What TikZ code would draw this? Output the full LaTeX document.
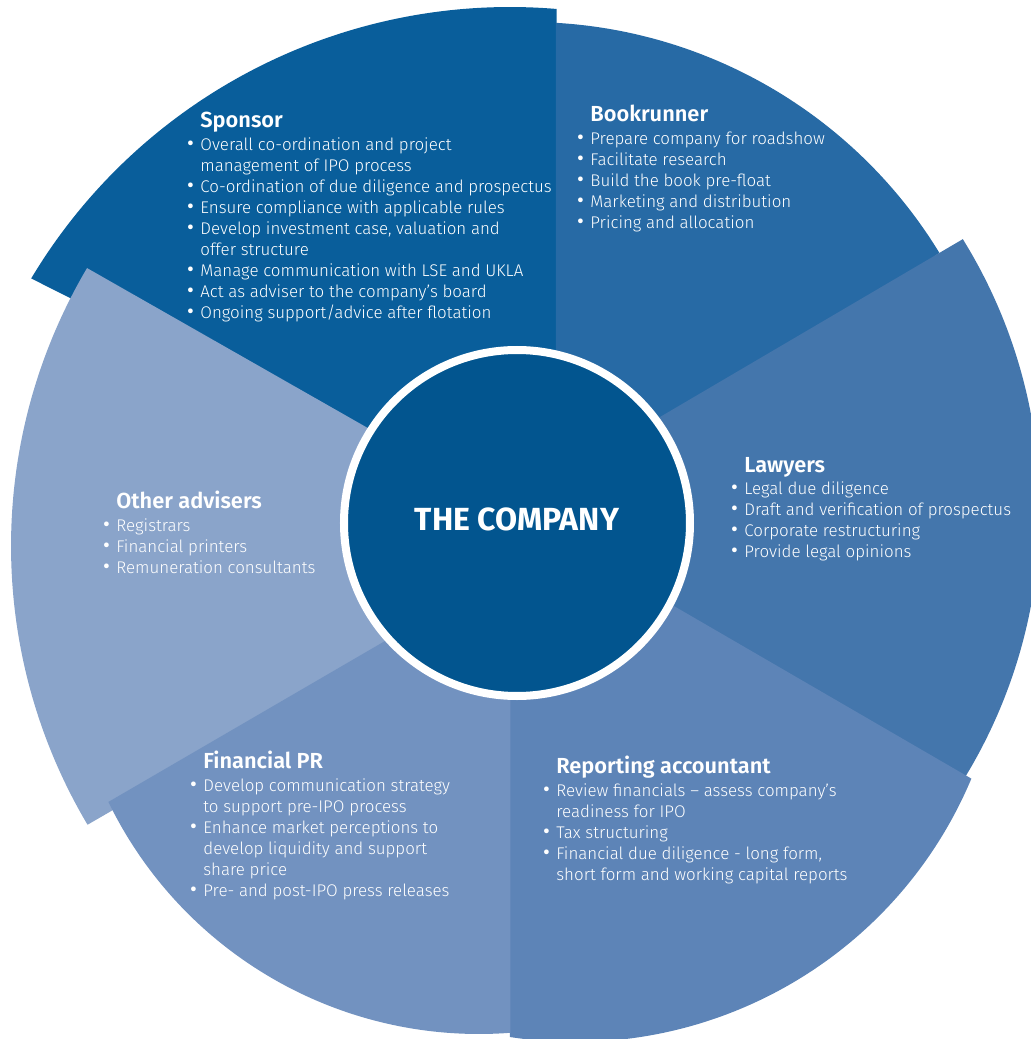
\documentclass[tikz,border=0pt]{standalone}
\usepackage{fontspec}
\setmainfont{Fira Sans}
\newfontfamily\lightfont{Fira Sans Light}
\usepackage{tikz}
\usetikzlibrary{calc}
\definecolor{sponsor}{HTML}{095E9B}
\definecolor{bookrun}{HTML}{276AA5}
\definecolor{lawyer}{HTML}{4476AC}
\definecolor{account}{HTML}{5D84B7}
\definecolor{finpr}{HTML}{7292C0}
\definecolor{other}{HTML}{8AA4CA}
\definecolor{hub}{HTML}{02558F}
% hanging bullet, so item text lines up with the heading
\newcommand{\bul}{\llap{\makebox[6.6pt][l]{\normalfont\fontsize{10.5}{0}\selectfont\textbullet}}}
\tikzset{
  block/.style={anchor=north west, inner sep=0pt, align=left, text=white,
    font=\lightfont\fontsize{8.45}{10.5}\selectfont},
  hubnode/.style={circle, fill=hub, draw=white, line width=4pt, inner sep=0pt,
    minimum size=173pt, text=white, font=\bfseries\fontsize{16}{16}\selectfont},
}
\newcommand{\hd}[1]{{\bfseries\fontsize{10.9}{10.5}\selectfont #1}\\[0.6pt]}

\begin{document}
\begin{tikzpicture}[x=0.5pt,y=0.5pt]
  \clip (-517,-516) rectangle (514,523);
  % arc centres of the six wedges
  \coordinate (spC) at (-7,-42);
  \coordinate (brC) at (11,19);
  \coordinate (lwC) at (9,13);
  \coordinate (raC) at (58,-89);
  \coordinate (oaC) at (40,-23);
  \coordinate (prC) at (-38,-99);

  % wedges, back to front
  \fill[sponsor] (40,0) -- ($(spC)+(85.2:558)$) arc[start angle=85.2, end angle=149.1, radius=558] -- (0,0) -- cycle;
  \fill[bookrun] (39,0) |- ($(brC)+(86.6:482)$) arc[start angle=86.6, end angle=31.4, radius=482] -- cycle;
  \fill[lawyer] (-12,15) -- ($(lwC)+(31.8:514)$) arc[start angle=31.8, end angle=-31.3, radius=514] -- cycle;
  \fill[account] (-12,15) -- ($(raC)+(-22.8:430)$) arc[start angle=-22.8, end angle=-98.7, radius=430] -- (-7,0) -- cycle;
  \fill[other] (0,10) -- ($(oaC)+(149.4:546)$) arc[start angle=149.4, end angle=210.7, radius=546] -- (0,-53) -- cycle;
  \fill[finpr] (-6.5,-45) |- ($(prC)+(-85.7:412)$) arc[start angle=-85.7, end angle=-154.1, radius=412] -- cycle;

  \node[hubnode] (company) at (0,0) {\raisebox{4pt}{THE COMPANY}};

  \node[block] (sponsorTxt) at (-317,411) {\hd{Sponsor}
    \bul Overall co-ordination and project\\
    management of IPO process\\
    \bul Co-ordination of due diligence and prospectus\\
    \bul Ensure compliance with applicable rules\\
    \bul Develop investment case, valuation and\\
    offer structure\\
    \bul Manage communication with LSE and UKLA\\
    \bul Act as adviser to the company’s board\\
    \bul Ongoing support/advice after flotation};
  \node[block] (bookTxt) at (73,418) {\hd{Bookrunner}
    \bul Prepare company for roadshow\\
    \bul Facilitate research\\
    \bul Build the book pre-float\\
    \bul Marketing and distribution\\
    \bul Pricing and allocation};
  \node[block] (lawTxt) at (227,66) {\hd{Lawyers}
    \bul Legal due diligence\\
    \bul Draft and verification of prospectus\\
    \bul Corporate restructuring\\
    \bul Provide legal opinions};
  \node[block] (otherTxt) at (-401,32) {\hd{Other advisers}
    \bul Registrars\\
    \bul Financial printers\\
    \bul Remuneration consultants};
  \node[block] (prTxt) at (-314,-228) {\hd{Financial PR}
    \bul Develop communication strategy\\
    to support pre-IPO process\\
    \bul Enhance market perceptions to\\
    develop liquidity and support\\
    share price\\
    \bul Pre- and post-IPO press releases};
  \node[block] (accTxt) at (39,-233) {\hd{Reporting accountant}
    \bul Review financials – assess company’s\\
    readiness for IPO\\
    \bul Tax structuring\\
    \bul Financial due diligence - long form,\\
    short form and working capital reports};
\end{tikzpicture}
\end{document}
